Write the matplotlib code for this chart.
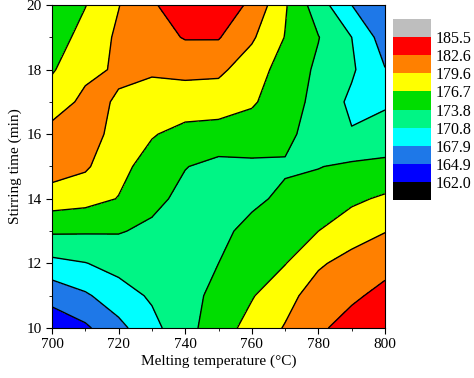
import numpy as np
import matplotlib.pyplot as plt

plt.rcParams['font.family'] = ['Liberation Serif', 'DejaVu Serif']

# melting temperature (x) and stirring time (y) grid
temperature = [700, 710, 720, 730, 740, 750, 760, 770, 780, 790, 800]
stirring_time = [10, 11, 12, 13, 14, 15, 16, 17, 18, 19, 20]

# response values, one row per stirring time
z_values = [
    [163.0, 164.4, 167.1, 169.9, 172.8, 175.4, 177.7, 179.8, 182.0, 184.0, 185.0],
    [165.9, 167.5, 169.5, 171.2, 172.8, 174.6, 176.5, 178.6, 181.0, 182.0, 183.6],
    [170.0, 170.7, 171.8, 172.3, 172.6, 173.8, 175.2, 176.6, 179.2, 180.7, 181.5],
    [174.2, 174.1, 174.0, 173.2, 172.3, 173.2, 174.5, 175.6, 176.7, 178.2, 179.5],
    [178.2, 177.7, 176.6, 174.6, 173.0, 172.5, 173.3, 174.3, 175.0, 176.2, 177.1],
    [181.0, 180.0, 177.5, 175.6, 173.9, 173.0, 173.2, 173.5, 173.7, 174.3, 174.5],
    [180.5, 181.0, 178.5, 176.9, 175.8, 175.6, 175.5, 174.5, 172.5, 171.0, 172.0],
    [178.3, 180.2, 179.4, 178.6, 178.2, 178.0, 177.0, 175.3, 172.8, 170.2, 170.4],
    [176.4, 179.0, 179.9, 179.9, 180.3, 180.2, 178.1, 175.5, 173.3, 171.2, 168.0],
    [175.3, 177.7, 180.1, 181.4, 182.8, 182.8, 180.0, 176.6, 173.9, 170.8, 166.5],
    [174.5, 176.6, 179.5, 182.2, 184.5, 184.5, 182.0, 177.0, 172.2, 167.9, 166.0],
]

levels = [162.0, 164.9, 167.9, 170.8, 173.8, 176.7, 179.6, 182.6, 185.5]
level_labels = ['162.0', '164.9', '167.9', '170.8', '173.8', '176.7', '179.6', '182.6', '185.5']

# below 162, bands, above 185.5
colors = ['#000000', '#0000ff', '#1e78e8', '#00ffff', '#00f585',
          '#00dd00', '#ffff00', '#ff8000', '#ff0000', '#bebebe']

X, Y = np.meshgrid(temperature, stirring_time)
Z = np.array(z_values)

fig = plt.figure(figsize=(4.74, 3.78), dpi=100)
ax = fig.add_axes([52/474, 1 - 328/378, 333/474, 323/378])

bounds = [150] + levels + [200]
ax.contourf(X, Y, Z, levels=bounds, colors=colors)
ax.contour(X, Y, Z, levels=levels, colors='black', linewidths=1.0)

ax.set_xlim(700, 800)
ax.set_ylim(10, 20)
ax.set_xticks([700, 720, 740, 760, 780, 800])
ax.set_xticks(np.arange(710, 800, 20), minor=True)
ax.set_yticks([10, 12, 14, 16, 18, 20])
ax.set_yticks(np.arange(11, 20, 2), minor=True)
ax.tick_params(which='major', direction='out', length=4, labelsize=11, top=False, right=False)
ax.tick_params(which='minor', direction='out', length=2.5, top=False, right=False)
ax.set_xlabel('Melting temperature (°C)', fontsize=11, labelpad=2)
ax.set_ylabel('Stirring time (min)', fontsize=11, labelpad=3)

# legend boxes
lax = fig.add_axes([393/474, 1 - 200/378, 38/474, 181/378])
lax.bar([0] * len(colors), [1] * len(colors), bottom=np.arange(len(colors)),
        width=1, color=colors, align='edge')
lax.set_xlim(0, 1)
lax.set_ylim(0, len(colors))
lax.set_xticks([])
lax.set_yticks(np.arange(1, len(levels) + 1))
lax.set_yticklabels(level_labels)
lax.yaxis.tick_right()
lax.tick_params(axis='y', length=0, pad=3, labelsize=11.5)
for s in lax.spines.values():
    s.set_visible(False)

fig.savefig('out.png', dpi=100)
